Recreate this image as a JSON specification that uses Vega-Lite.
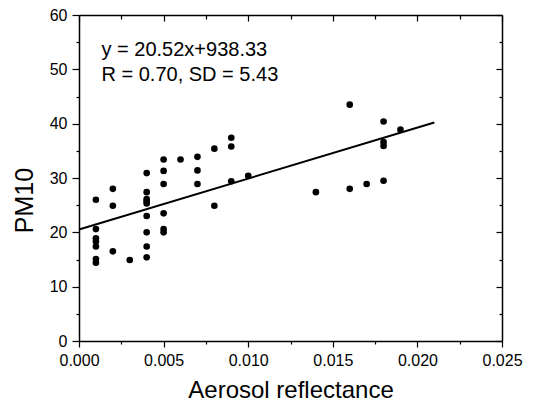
{
  "$schema": "https://vega.github.io/schema/vega-lite/v6.json",
  "width": 423,
  "height": 326,
  "autosize": {"type": "none"},
  "padding": {"left": 79, "top": 15, "right": 34, "bottom": 70},
  "background": "white",
  "config": {
    "view": {"stroke": null},
    "font": "Liberation Sans",
    "axis": {"grid": false, "domainColor": "black", "domainWidth": 1.5, "tickColor": "black", "tickWidth": 1.2, "labelColor": "black", "titleColor": "black", "labelFont": "Liberation Sans", "titleFont": "Liberation Sans", "titleFontWeight": "normal"}
  },
  "datasets": {
    "points": [
      {"reflectance": 0.001, "pm10": 26.0},
      {"reflectance": 0.001, "pm10": 20.6},
      {"reflectance": 0.001, "pm10": 18.9},
      {"reflectance": 0.001, "pm10": 18.3},
      {"reflectance": 0.001, "pm10": 17.4},
      {"reflectance": 0.001, "pm10": 15.1},
      {"reflectance": 0.001, "pm10": 14.4},
      {"reflectance": 0.002, "pm10": 28.0},
      {"reflectance": 0.002, "pm10": 24.9},
      {"reflectance": 0.002, "pm10": 16.5},
      {"reflectance": 0.003, "pm10": 14.9},
      {"reflectance": 0.004, "pm10": 30.9},
      {"reflectance": 0.004, "pm10": 27.4},
      {"reflectance": 0.004, "pm10": 26.1},
      {"reflectance": 0.004, "pm10": 25.7},
      {"reflectance": 0.004, "pm10": 25.3},
      {"reflectance": 0.004, "pm10": 23.0},
      {"reflectance": 0.004, "pm10": 20.0},
      {"reflectance": 0.004, "pm10": 17.4},
      {"reflectance": 0.004, "pm10": 15.4},
      {"reflectance": 0.005, "pm10": 33.4},
      {"reflectance": 0.005, "pm10": 31.3},
      {"reflectance": 0.005, "pm10": 28.9},
      {"reflectance": 0.005, "pm10": 23.5},
      {"reflectance": 0.005, "pm10": 20.6},
      {"reflectance": 0.005, "pm10": 20.0},
      {"reflectance": 0.006, "pm10": 33.4},
      {"reflectance": 0.007, "pm10": 33.9},
      {"reflectance": 0.007, "pm10": 31.4},
      {"reflectance": 0.007, "pm10": 28.9},
      {"reflectance": 0.008, "pm10": 35.4},
      {"reflectance": 0.008, "pm10": 24.9},
      {"reflectance": 0.009, "pm10": 37.4},
      {"reflectance": 0.009, "pm10": 35.8},
      {"reflectance": 0.009, "pm10": 29.4},
      {"reflectance": 0.010, "pm10": 30.4},
      {"reflectance": 0.014, "pm10": 27.4},
      {"reflectance": 0.016, "pm10": 43.5},
      {"reflectance": 0.016, "pm10": 28.0},
      {"reflectance": 0.017, "pm10": 28.9},
      {"reflectance": 0.018, "pm10": 40.4},
      {"reflectance": 0.018, "pm10": 36.6},
      {"reflectance": 0.018, "pm10": 35.9},
      {"reflectance": 0.018, "pm10": 29.5},
      {"reflectance": 0.019, "pm10": 38.9}
    ],
    "fit": [
      {"reflectance": 0.0, "pm10": 20.52},
      {"reflectance": 0.021, "pm10": 40.22}
    ],
    "labels": [
      {"reflectance": 0.00133, "pm10": 52.45, "text": "y = 20.52x+938.33"},
      {"reflectance": 0.00133, "pm10": 47.85, "text": "R = 0.70, SD = 5.43"}
    ]
  },
  "layer": [
    {
      "data": {"name": "points"},
      "mark": {"type": "circle", "size": 44, "color": "black", "opacity": 1},
      "encoding": {
        "x": {
          "field": "reflectance", "type": "quantitative",
          "scale": {"domain": [0, 0.025], "nice": false, "zero": false},
          "axis": {
            "orient": "bottom",
            "values": [0, 0.0025, 0.005, 0.0075, 0.01, 0.0125, 0.015, 0.0175, 0.02, 0.0225, 0.025],
            "format": ".3f",
            "labelExpr": "round(datum.value*400) % 2 === 0 ? datum.label : ''",
            "tickSize": {"condition": {"test": "round(datum.value*400) % 2 === 0", "value": 6}, "value": 3},
            "labelFontSize": 16,
            "labelPadding": 5,
            "labelFlush": false,
            "labelOverlap": false,
            "title": "Aerosol reflectance",
            "titleFontSize": 24,
            "titleBaseline": "alphabetic",
            "titleY": 56
          }
        },
        "y": {
          "field": "pm10", "type": "quantitative",
          "scale": {"domain": [0, 60], "nice": false, "zero": false},
          "axis": {
            "orient": "left",
            "values": [0, 5, 10, 15, 20, 25, 30, 35, 40, 45, 50, 55, 60],
            "labelExpr": "datum.value % 10 === 0 ? datum.label : ''",
            "tickSize": {"condition": {"test": "datum.value % 10 === 0", "value": 7}, "value": 3},
            "labelFontSize": 16,
            "labelPadding": 5,
            "labelFlush": false,
            "labelOverlap": false,
            "title": "PM10",
            "titleFontSize": 25,
            "titleAngle": 270,
            "titleBaseline": "alphabetic",
            "titleAlign": "center",
            "titleX": -47,
            "titleY": 185
          }
        }
      }
    },
    {
      "data": {"name": "fit"},
      "mark": {"type": "line", "color": "black", "strokeWidth": 2},
      "encoding": {
        "x": {
          "field": "reflectance", "type": "quantitative",
          "axis": {
            "orient": "top",
            "values": [0, 0.0025, 0.005, 0.0075, 0.01, 0.0125, 0.015, 0.0175, 0.02, 0.0225, 0.025],
            "labels": false,
            "title": null,
            "tickSize": {"condition": {"test": "round(datum.value*400) % 2 === 0", "value": -6}, "value": -4}
          }
        },
        "y": {
          "field": "pm10", "type": "quantitative",
          "axis": {
            "orient": "right",
            "values": [0, 5, 10, 15, 20, 25, 30, 35, 40, 45, 50, 55, 60],
            "labels": false,
            "title": null,
            "tickSize": {"condition": {"test": "datum.value % 10 === 0", "value": -6}, "value": -3}
          }
        }
      }
    },
    {
      "data": {"name": "labels"},
      "mark": {"type": "text", "align": "left", "baseline": "alphabetic", "fontSize": 20, "font": "Liberation Sans", "color": "black"},
      "encoding": {
        "x": {"field": "reflectance", "type": "quantitative", "axis": null},
        "y": {"field": "pm10", "type": "quantitative", "axis": null},
        "text": {"field": "text", "type": "nominal"}
      }
    }
  ],
  "resolve": {"axis": {"x": "independent", "y": "independent"}}
}
